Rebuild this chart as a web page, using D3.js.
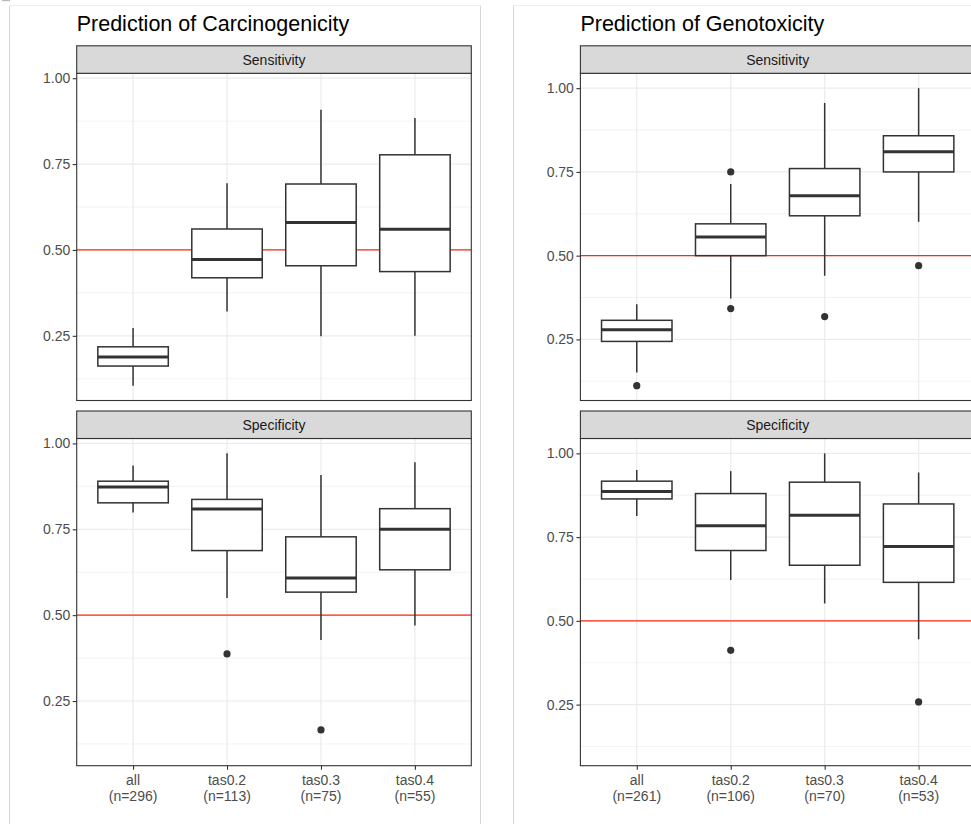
<!DOCTYPE html>
<html>
<head>
<meta charset="utf-8">
<script src="https://cdn.jsdelivr.net/npm/d3@7"></script>
<style>
  html, body { margin: 0; padding: 0; background: #fff; }
  svg { display: block; font-family: "Liberation Sans", Arial, Helvetica, sans-serif; }
</style>
</head>
<body>
<svg id="chart" width="971" height="824"></svg>
<script>
// ---------------- DATA ----------------
const categories = ["all", "tas0.2", "tas0.3", "tas0.4"];
const carcN = [296, 113, 75, 55];
const genoN = [261, 106, 70, 53];
const facetNames = ["Sensitivity", "Specificity"];
const plotTitles = ["Prediction of Carcinogenicity", "Prediction of Genotoxicity"];
const yTicks = [0.25, 0.50, 0.75, 1.00];
const yMinorTicks = [0.125, 0.375, 0.625, 0.875];
const refLine = 0.5;

// box stats per category: [lower whisker, Q1, median, Q3, upper whisker]
const carcSens = [
  [0.105, 0.162, 0.188, 0.218, 0.273],
  [0.321, 0.419, 0.472, 0.561, 0.694],
  [0.249, 0.454, 0.580, 0.692, 0.908],
  [0.250, 0.437, 0.560, 0.777, 0.884]
];
const carcSensOut = [[], [], [], []];
const carcSpec = [
  [0.799, 0.827, 0.873, 0.890, 0.936],
  [0.550, 0.688, 0.809, 0.837, 0.971],
  [0.428, 0.567, 0.608, 0.728, 0.908],
  [0.470, 0.632, 0.750, 0.810, 0.945]
];
const carcSpecOut = [[], [0.387], [0.166], []];

const genoSens = [
  [0.151, 0.244, 0.279, 0.307, 0.355],
  [0.372, 0.500, 0.556, 0.595, 0.714],
  [0.440, 0.619, 0.679, 0.760, 0.956],
  [0.601, 0.750, 0.810, 0.858, 1.000]
];
const genoSensOut = [[0.112], [0.750, 0.342], [0.318], [0.470]];
const genoSpec = [
  [0.813, 0.864, 0.886, 0.917, 0.950],
  [0.622, 0.710, 0.784, 0.880, 0.947],
  [0.552, 0.666, 0.815, 0.914, 1.000],
  [0.445, 0.615, 0.722, 0.849, 0.943]
];
const genoSpecOut = [[], [0.412], [], [0.258]];

const plots = [
  { title: plotTitles[0], n: carcN, offsetX: 0,
    facets: [{ name: facetNames[0], stats: carcSens, out: carcSensOut },
             { name: facetNames[1], stats: carcSpec, out: carcSpecOut }] },
  { title: plotTitles[1], n: genoN, offsetX: 503.7,
    facets: [{ name: facetNames[0], stats: genoSens, out: genoSensOut },
             { name: facetNames[1], stats: genoSpec, out: genoSpecOut }] }
];

// ---------------- LAYOUT ----------------
const svg = d3.select("#chart");
const C = {
  border: "#333333", strip: "#d9d9d9", grid: "#ebebeb",
  axisText: "#4d4d4d", stripText: "#1a1a1a", frame: "#d6d6d6", red: "#ff2a10"
};
const panelLeft = 76.7, panelW = 394.6;
const stripH = 27.5, panelH = 327.2;
const facetTops = [45.8, 411.0];   // strip tops

// image frames
svg.append("line").attr("x1", 9.5).attr("x2", 9.5).attr("y1", 5.5).attr("y2", 824).attr("stroke", C.frame);
svg.append("line").attr("x1", 480.5).attr("x2", 480.5).attr("y1", 5.5).attr("y2", 824).attr("stroke", C.frame);
svg.append("line").attr("x1", 9.5).attr("x2", 480.5).attr("y1", 5.5).attr("y2", 5.5).attr("stroke", "#eeeeee");
svg.append("line").attr("x1", 513.5).attr("x2", 513.5).attr("y1", 5.5).attr("y2", 824).attr("stroke", C.frame);
svg.append("line").attr("x1", 513.5).attr("x2", 971).attr("y1", 5.5).attr("y2", 5.5).attr("stroke", "#eeeeee");
svg.append("rect").attr("x", 2).attr("y", 0).attr("width", 8).attr("height", 1.2).attr("fill", "#bbbbbb");

plots.forEach(p => {
  const g = svg.append("g").attr("transform", `translate(${p.offsetX},0)`);

  // shared y domain (fixed facet scales) from data extent with 5% expansion
  const allVals = [];
  p.facets.forEach(f => {
    f.stats.forEach(s => allVals.push(...s));
    f.out.forEach(o => allVals.push(...o));
  });
  const [lo, hi] = d3.extent(allVals);
  const pad = (hi - lo) * 0.05;

  const x = d3.scalePoint().domain(categories).range([panelLeft, panelLeft + panelW]).padding(0.6);
  const boxW = x.step() * 0.75;

  g.append("text").attr("x", panelLeft).attr("y", 30.5)
    .attr("font-size", 21.5).attr("fill", "#000").text(p.title);

  p.facets.forEach((f, fi) => {
    const sTop = facetTops[fi];
    const pTop = sTop + stripH;
    const y = d3.scaleLinear().domain([lo - pad, hi + pad]).range([pTop + panelH, pTop]);
    const pg = g.append("g");

    // grid
    pg.selectAll(".minor").data(yMinorTicks).join("line")
      .attr("x1", panelLeft).attr("x2", panelLeft + panelW)
      .attr("y1", d => y(d)).attr("y2", d => y(d))
      .attr("stroke", C.grid).attr("stroke-width", 0.6);
    pg.selectAll(".major").data(yTicks).join("line")
      .attr("x1", panelLeft).attr("x2", panelLeft + panelW)
      .attr("y1", d => y(d)).attr("y2", d => y(d))
      .attr("stroke", C.grid).attr("stroke-width", 1.2);
    pg.selectAll(".vmajor").data(categories).join("line")
      .attr("x1", d => x(d)).attr("x2", d => x(d))
      .attr("y1", pTop).attr("y2", pTop + panelH)
      .attr("stroke", C.grid).attr("stroke-width", 1.2);

    // reference line
    pg.append("line").attr("x1", panelLeft).attr("x2", panelLeft + panelW)
      .attr("y1", y(refLine)).attr("y2", y(refLine))
      .attr("stroke", C.red).attr("stroke-width", 1.3);

    // boxes
    categories.forEach((cat, i) => {
      const s = f.stats[i];
      const cx = x(cat);
      const bg = pg.append("g");
      bg.append("line").attr("x1", cx).attr("x2", cx).attr("y1", y(s[4])).attr("y2", y(s[3]))
        .attr("stroke", C.border).attr("stroke-width", 1.5);
      bg.append("line").attr("x1", cx).attr("x2", cx).attr("y1", y(s[1])).attr("y2", y(s[0]))
        .attr("stroke", C.border).attr("stroke-width", 1.5);
      bg.append("rect").attr("x", cx - boxW / 2).attr("width", boxW)
        .attr("y", y(s[3])).attr("height", y(s[1]) - y(s[3]))
        .attr("fill", "#fff").attr("stroke", C.border).attr("stroke-width", 1.5);
      bg.append("line").attr("x1", cx - boxW / 2).attr("x2", cx + boxW / 2)
        .attr("y1", y(s[2])).attr("y2", y(s[2]))
        .attr("stroke", C.border).attr("stroke-width", 3);
      bg.selectAll("circle").data(f.out[i]).join("circle")
        .attr("cx", cx).attr("cy", d => y(d)).attr("r", 3.6).attr("fill", C.border);
    });

    // panel border
    pg.append("rect").attr("x", panelLeft).attr("y", pTop).attr("width", panelW).attr("height", panelH)
      .attr("fill", "none").attr("stroke", C.border).attr("stroke-width", 1.1);

    // strip
    pg.append("rect").attr("x", panelLeft).attr("y", sTop).attr("width", panelW).attr("height", stripH)
      .attr("fill", C.strip).attr("stroke", C.border).attr("stroke-width", 1.1);
    pg.append("text").attr("x", panelLeft + panelW / 2).attr("y", sTop + stripH / 2 + 5)
      .attr("text-anchor", "middle").attr("font-size", 14).attr("fill", C.stripText).text(f.name);

    // y axis
    const ya = pg.append("g").attr("transform", `translate(${panelLeft},0)`)
      .call(d3.axisLeft(y).tickValues(yTicks).tickFormat(d3.format(".2f")).tickSize(4).tickPadding(2.5));
    ya.select(".domain").remove();
    ya.selectAll(".tick line").attr("stroke", C.border).attr("stroke-width", 1.1);
    ya.selectAll(".tick text").attr("fill", C.axisText).attr("font-size", 14)
      .attr("font-family", "'Liberation Sans', Arial, sans-serif");

    // x axis (bottom facet only)
    if (fi === p.facets.length - 1) {
      const xa = pg.append("g").attr("transform", `translate(0,${pTop + panelH})`)
        .call(d3.axisBottom(x).tickSize(4).tickFormat(""));
      xa.select(".domain").remove();
      xa.selectAll(".tick line").attr("stroke", C.border).attr("stroke-width", 1.1);
      categories.forEach((cat, i) => {
        const t = pg.append("text").attr("x", x(cat)).attr("text-anchor", "middle")
          .attr("font-size", 14).attr("fill", C.axisText);
        t.append("tspan").attr("x", x(cat)).attr("y", pTop + panelH + 19.5).text(cat);
        t.append("tspan").attr("x", x(cat)).attr("y", pTop + panelH + 35.2).text(`(n=${p.n[i]})`);
      });
    }
  });
});
</script>
</body>
</html>
